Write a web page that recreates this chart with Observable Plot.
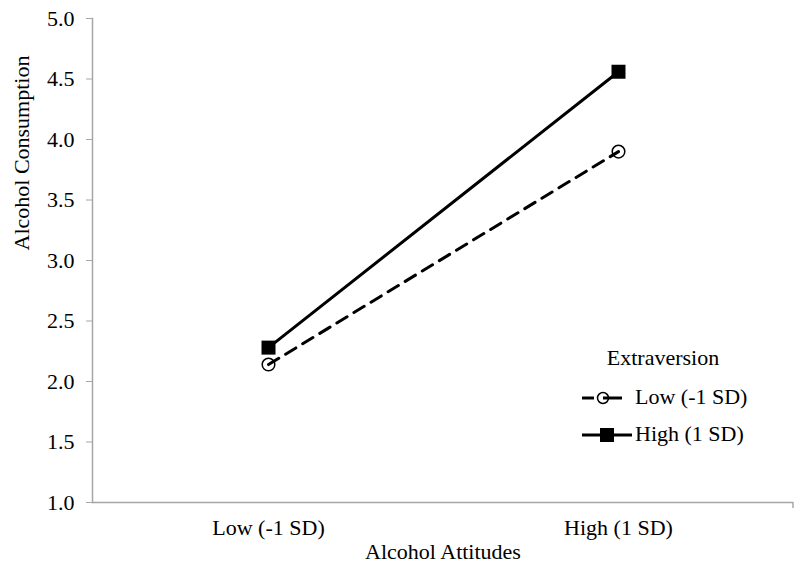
<!DOCTYPE html>
<html>
<head>
<meta charset="utf-8">
<script src="https://cdn.jsdelivr.net/npm/d3@7"></script>
<script src="https://cdn.jsdelivr.net/npm/@observablehq/plot@0.6"></script>
<style>
  html, body { margin: 0; padding: 0; background: #fff; }
  #chart svg { display: block; }
</style>
</head>
<body>
<div id="chart"></div>
<script>
// ---- data ----
const categories = ["Low (-1 SD)", "High (1 SD)"];          // Alcohol Attitudes
const seriesNames = ["Low (-1 SD)", "High (1 SD)"];         // Extraversion
const lowExtraversion = [2.14, 3.90];
const highExtraversion = [2.28, 4.56];
const yTicks = [1.0, 1.5, 2.0, 2.5, 3.0, 3.5, 4.0, 4.5, 5.0];
const xTitle = "Alcohol Attitudes";
const yTitle = "Alcohol Consumption";
const legendTitle = "Extraversion";

const lowRows = categories.map((c, i) => ({cat: c, value: lowExtraversion[i], series: seriesNames[0]}));
const highRows = categories.map((c, i) => ({cat: c, value: highExtraversion[i], series: seriesNames[1]}));

const FONT = "'Liberation Serif', 'Times New Roman', serif";
const FS = 22;
const AXIS = "#a6a6a6";
const DASH = "12,8";

const chart = Plot.plot({
  width: 800,
  height: 572,
  marginLeft: 92,
  marginRight: 7,
  marginTop: 18,
  marginBottom: 70,
  style: {fontFamily: FONT, fontSize: FS + "px", color: "#000", background: "#fff"},
  x: {type: "band", domain: categories, padding: 0, label: null},
  y: {domain: [1, 5], label: null},
  marks: [
    Plot.ruleY([1], {stroke: AXIS, strokeWidth: 1.5}),
    Plot.frame({anchor: "left", stroke: AXIS, strokeWidth: 1.5}),
    Plot.axisY({ticks: yTicks, tickFormat: d3.format(".1f"), tickSize: 6, tickPadding: 12, stroke: AXIS, fontSize: FS, fill: "#000", label: null}),
    Plot.axisX({tickSize: 0, tickPadding: 17, fontSize: FS, fill: "#000", label: null}),
    Plot.text([yTitle], {frameAnchor: "left", dx: -71, dy: -10, rotate: -90, fontSize: FS, fill: "#000"}),
    Plot.text([xTitle], {frameAnchor: "bottom", dy: 56, fontSize: FS, fill: "#000"}),
    Plot.dot(lowRows, {x: "cat", y: "value", symbol: "circle", r: 6.3, fill: "#fff", stroke: "#000", strokeWidth: 1.5}),
    Plot.line(lowRows, {x: "cat", y: "value", stroke: "#000", strokeWidth: 3, strokeDasharray: DASH}),
    Plot.line(highRows, {x: "cat", y: "value", stroke: "#000", strokeWidth: 3}),
    Plot.dot(highRows, {x: "cat", y: "value", symbol: "square", r: 7.9, fill: "#000", stroke: "none"})
  ]
});

document.getElementById("chart").appendChild(chart);

// ---- decorations: end tick of category axis and legend ----
const svg = d3.select(chart);
const xs = chart.scale("x");
const ys = chart.scale("y");
const xEnd = xs.range[1];
const yBase = ys.apply(ys.domain[0]);
svg.append("line")
  .attr("x1", xEnd).attr("x2", xEnd)
  .attr("y1", yBase).attr("y2", yBase + 6)
  .attr("stroke", AXIS).attr("stroke-width", 1.5);

const lg = svg.append("g")
  .attr("font-family", FONT).attr("font-size", FS).attr("fill", "#000");
lg.append("text").attr("x", 663).attr("y", 365).attr("text-anchor", "middle").text(legendTitle);

// Low row
const r1 = 398;
lg.append("line").attr("x1", 582).attr("x2", 594).attr("y1", r1).attr("y2", r1).attr("stroke", "#000").attr("stroke-width", 3);
lg.append("line").attr("x1", 609).attr("x2", 622).attr("y1", r1).attr("y2", r1).attr("stroke", "#000").attr("stroke-width", 3);
lg.append("circle").attr("cx", 603).attr("cy", r1).attr("r", 5.5).attr("fill", "none").attr("stroke", "#000").attr("stroke-width", 1.5);
lg.append("line").attr("x1", 603).attr("x2", 609).attr("y1", r1).attr("y2", r1).attr("stroke", "#000").attr("stroke-width", 3);
lg.append("text").attr("x", 635).attr("y", r1 + 6).attr("text-anchor", "start").text(seriesNames[0]);

// High row
const r2 = 435;
lg.append("line").attr("x1", 582).attr("x2", 632).attr("y1", r2).attr("y2", r2).attr("stroke", "#000").attr("stroke-width", 3);
lg.append("rect").attr("x", 600).attr("y", r2 - 7).attr("width", 14).attr("height", 14).attr("fill", "#000");
lg.append("text").attr("x", 635).attr("y", r2 + 6).attr("text-anchor", "start").text(seriesNames[1]);
</script>
</body>
</html>
